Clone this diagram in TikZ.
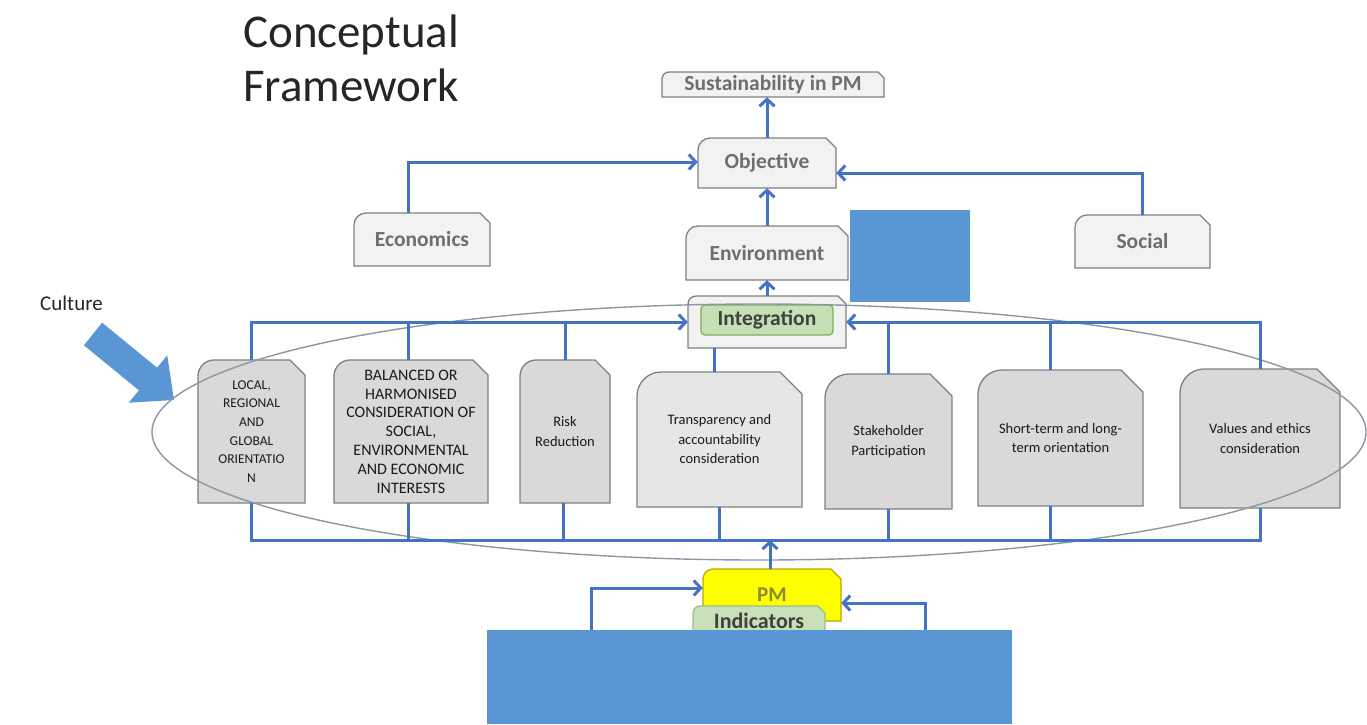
\documentclass[tikz,border=0pt]{standalone}
\usepackage{fontspec}
\setmainfont{Carlito}
\usetikzlibrary{arrows.meta,calc,shapes.geometric}
\definecolor{connblue}{HTML}{4472C4}
\definecolor{blueblock}{HTML}{5A96D3}
\definecolor{boxlight}{HTML}{F2F2F2}
\definecolor{boxgray}{HTML}{D9D9D9}
\definecolor{boxgraylt}{HTML}{E6E6E6}
\definecolor{boxborder}{HTML}{7F7F7F}
\definecolor{toptxt}{HTML}{6E6E6E}
\definecolor{rowtxt}{HTML}{1A1A1A}
\definecolor{ellcol}{HTML}{8A98A6}
\definecolor{greenfill}{HTML}{C5E0B4}
\definecolor{greenborder}{HTML}{7FAE5E}
\definecolor{indfill}{HTML}{C9DFB8}
\definecolor{indborder}{HTML}{9DBE88}
\definecolor{pmyellow}{HTML}{FFFF00}
\definecolor{pmborder}{HTML}{B8A800}
\definecolor{pmtxt}{HTML}{8A8A3A}
\def\cardr{8}\def\cards{8}
\newcommand\mkcard[8]{%
  \path[#6] (#2,#5) -- (#2,#3+\cardr) .. controls (#2,#3+0.45*\cardr) and (#2+0.45*\cardr,#3) .. (#2+\cardr,#3) -- (#4-\cards,#3) -- (#4,#3+\cards) -- (#4,#5) -- cycle;
  \node[inner sep=0pt, minimum width={#4-#2}, minimum height={#5-#3}, align=center, #7] (#1) at ({(#2+#4)/2},{(#3+#5)/2}) {#8};}
\tikzset{
  topcard/.style={fill=boxlight, draw=boxborder, line width=1.3pt},
  rowcard/.style={fill=boxgray, draw=boxborder, line width=1.3pt},
  toptext/.style={font=\fontsize{21.5}{25}\selectfont\bfseries, text=toptxt},
  rowtext/.style={font=\fontsize{14.5}{19.5}\selectfont, text=rowtxt},
  conn/.style={draw=connblue, line width=3pt},
  arr/.style={conn, -{Straight Barb[length=7pt,width=15pt]}},
}
\begin{document}
\begin{tikzpicture}[x=1pt,y=-1pt]
\useasboundingbox (0,0) rectangle (1367,724);
% title
\node[anchor=north west, align=left, inner sep=0pt, font=\fontsize{47}{54}\selectfont, text=black!85] (title) at (243,15) {Conceptual\\Framework};
\node[anchor=base west, inner sep=0pt, font=\fontsize{21}{25}\selectfont, text=black!85] (culture) at (40,310) {Culture};
% culture arrow
\path[fill=blueblock] (83.9,345.3) -- (138.9,390.3) -- (128.8,402.7) -- (174,400) -- (167.2,355.3) -- (157.1,367.7) -- (102.1,322.7) -- cycle;
% top cards
\def\cardr{7}\def\cards{6}
\mkcard{sus}{662}{72}{884}{97}{topcard}{toptext}{Sustainability in PM}
\def\cardr{12}\def\cards{10}
\mkcard{obj}{698}{138}{836}{188}{topcard}{toptext}{Objective}
\mkcard{env}{686}{226}{848}{280}{topcard}{toptext}{Environment}
\mkcard{eco}{354}{213}{490}{266}{topcard}{toptext}{Economics}
\mkcard{soc}{1075}{215}{1210}{268}{topcard}{toptext}{Social}
\node[fill=blueblock, inner sep=0pt, minimum width=120, minimum height=92] (bluesq) at (910,256) {};
% integration
\def\cardr{8}\def\cards{8}
\mkcard{intout}{688}{296}{846}{348}{topcard}{}{}
\node[fill=greenfill, draw=greenborder, line width=1.3pt, rounded corners=4pt, minimum width=132, minimum height=30, inner sep=0pt, font=\fontsize{21.5}{25}\selectfont\bfseries, text=black!75] (int) at (767,320) {Integration};
% row cards
\def\cardr{16}\def\cards{15}
\mkcard{c1}{198}{360}{305}{503}{rowcard}{rowtext,font=\fontsize{13.5}{18.7}\selectfont}{LOCAL,\\REGIONAL\\AND\\GLOBAL\\ORIENTATIO\\N}
\mkcard{c2}{334}{360}{488}{503}{rowcard}{rowtext,font=\fontsize{16}{18.8}\selectfont}{BALANCED OR\\HARMONISED\\CONSIDERATION OF\\SOCIAL,\\ENVIRONMENTAL\\AND ECONOMIC\\INTERESTS}
\mkcard{c3}{520}{360}{610}{503}{rowcard}{rowtext}{Risk\\Reduction}
\def\cardr{24}\def\cards{22}
\mkcard{c4}{637}{372}{802}{507}{rowcard,fill=boxgraylt}{rowtext}{Transparency and\\accountability\\consideration}
\mkcard{c5}{825}{374}{952}{509}{rowcard}{rowtext}{Stakeholder\\Participation}
\mkcard{c6}{978}{370}{1143}{506}{rowcard}{rowtext}{Short-term and long-\\term orientation}
\def\cards{23}
\mkcard{c7}{1180}{369}{1340}{508}{rowcard}{rowtext}{Values and ethics\\consideration}
% ellipse
\node[draw=ellcol, line width=1.4pt, ellipse, minimum width=1214, minimum height=256, inner sep=0pt] (ell) at (759,432) {};
% PM and indicators
\def\cardr{10}\def\cards{10}
\mkcard{pm}{703}{569}{841}{621}{fill=pmyellow, draw=pmborder, line width=1.3pt}{font=\fontsize{21}{25}\selectfont\bfseries, text=pmtxt}{PM}
\def\cardr{7}\def\cards{7}
\mkcard{ind}{693}{606}{825}{636}{fill=indfill, draw=indborder, line width=1.3pt}{font=\fontsize{22}{25}\selectfont\bfseries, text=black!75}{Indicators}
\node[fill=blueblock, inner sep=0pt, minimum width=525, minimum height=94] (blue) at (749.5,677) {};
% connectors: top
\draw[arr] (obj.north) -- (obj.north |- sus.south);
\draw[arr] (env.north) -- (env.north |- obj.south);
\draw[arr] (intout.north) -- (intout.north |- env.south);
\draw[arr] ([xshift=-14pt]eco.north) |- ([yshift=1pt]obj.west);
\draw[arr] (soc.north) |- ([yshift=-10pt]obj.east);
% top bus
\draw[arr] (c1.north) |- (intout.west);
\draw[conn] ([xshift=-3pt]c2.north) -- ([xshift=-3pt]c2.north |- intout.west);
\draw[conn] (c3.north) -- (c3.north |- intout.west);
\draw[arr] (c7.north) |- (intout.east);
\draw[conn] (c5.north) -- (c5.north |- intout.east);
\draw[conn] ([xshift=-10pt]c6.north) -- ([xshift=-10pt]c6.north |- intout.east);
\draw[conn] ([xshift=-53pt]intout.south) -- ([xshift=-53pt]intout.south |- c4.north);
% bottom bus
\coordinate (bus) at (770,540);
\draw[conn] (c1.south) |- (bus) -| (c7.south);
\draw[conn] ([xshift=-3pt]c2.south) -- ([xshift=-3pt]c2.south |- bus);
\draw[conn] ([xshift=-2pt]c3.south) -- ([xshift=-2pt]c3.south |- bus);
\draw[conn] (c4.south) -- (c4.south |- bus);
\draw[conn] (c5.south) -- (c5.south |- bus);
\draw[conn] ([xshift=-10pt]c6.south) -- ([xshift=-10pt]c6.south |- bus);
\draw[arr] ([xshift=-2pt]pm.north) -- ([xshift=-2pt]pm.north |- bus);
% feedback
\draw[arr] ([xshift=105pt]blue.north west) |- ([yshift=7pt]pm.west);
\draw[arr] ([xshift=439pt]blue.north west) |- ([yshift=-8pt]pm.east);
\end{tikzpicture}
\end{document}
